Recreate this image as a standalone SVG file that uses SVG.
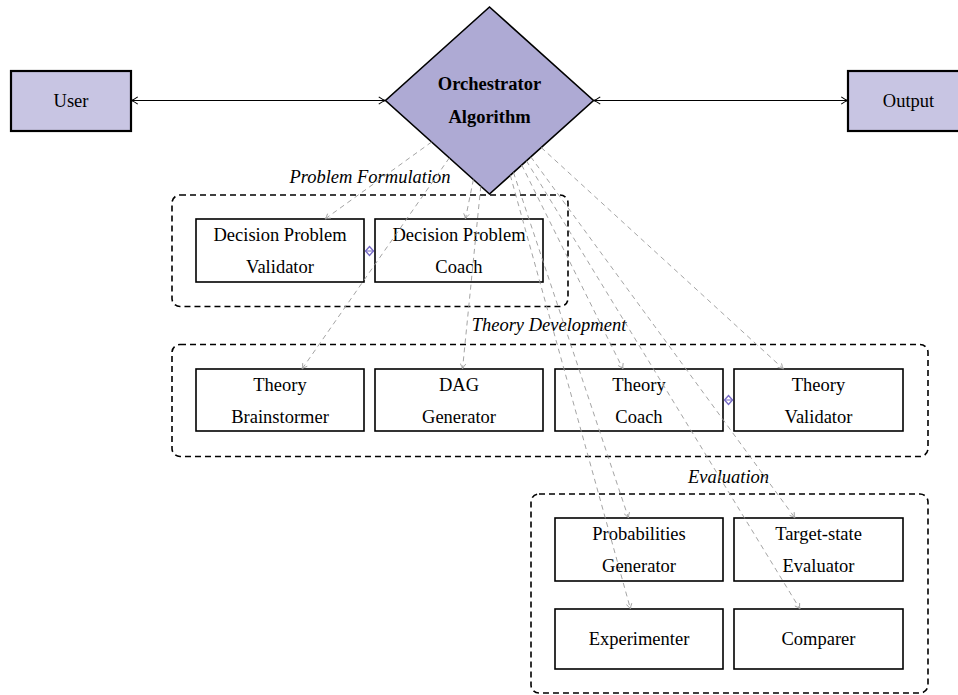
<svg xmlns="http://www.w3.org/2000/svg" width="958" height="695" viewBox="0 0 958 695">
<style>
text{font-family:"Liberation Serif","Times New Roman",serif;font-size:18.5px;fill:#000;text-anchor:middle}
.bold{font-weight:bold}
.it{font-style:italic}
.io{fill:#c8c5e3;stroke:#000;stroke-width:2.2}
.box{fill:#fff;stroke:#000;stroke-width:1.6}
.grp{fill:none;stroke:#000;stroke-width:1.6;stroke-dasharray:6 4}
.dash{fill:none;stroke:#9a9a9a;stroke-width:0.9;stroke-dasharray:5 4;marker-end:url(#ga)}
.solid{fill:none;stroke:#000;stroke-width:1.2;marker-start:url(#ba);marker-end:url(#ba)}
.link{fill:#fff;stroke:#7468c4;stroke-width:1.3}
.linkline{stroke:#7468c4;stroke-width:1}
</style>
<defs>
<marker id="ba" viewBox="0 0 10 10" refX="9.5" refY="5" markerWidth="9" markerHeight="9" markerUnits="userSpaceOnUse" orient="auto-start-reverse">
<path d="M2,1 Q6,4 9.5,5 Q6,6 2,9" fill="none" stroke="#000" stroke-width="1.2"/>
</marker>
<marker id="ga" viewBox="0 0 10 10" refX="9.5" refY="5" markerWidth="7" markerHeight="7" markerUnits="userSpaceOnUse" orient="auto">
<path d="M2,1 Q6,4 9.5,5 Q6,6 2,9" fill="none" stroke="#9a9a9a" stroke-width="1.2"/>
</marker>
</defs>

<g id="group-problem-formulation">
<rect class="grp" x="172" y="195" width="396" height="111.5" rx="8"/>
<text class="it" x="370" y="183">Problem Formulation</text>
</g>
<g id="group-theory-development">
<rect class="grp" x="172" y="344.5" width="756" height="112" rx="8"/>
<text class="it" x="549" y="331">Theory Development</text>
</g>
<g id="group-evaluation">
<rect class="grp" x="531" y="494" width="397" height="199" rx="8"/>
<text class="it" x="728.5" y="483">Evaluation</text>
</g>

<g id="user">
<rect class="io" x="11" y="71" width="120" height="60"/>
<text x="71" y="107">User</text>
</g>
<g id="output">
<rect class="io" x="848" y="71" width="121" height="60"/>
<text x="908.5" y="107">Output</text>
</g>
<g id="orchestrator">
<polygon points="489.5,7 593.5,100.5 489.5,194 385.5,100.5" fill="#aeaad4" stroke="#000" stroke-width="1.6"/>
<text class="bold" x="489.5" y="90">Orchestrator</text>
<text class="bold" x="489.5" y="122.5">Algorithm</text>
</g>

<g id="dp-validator">
<rect class="box" x="196" y="219" width="168" height="63"/>
<text x="280" y="241">Decision Problem</text>
<text x="280" y="273">Validator</text>
</g>
<g id="dp-coach">
<rect class="box" x="375" y="219" width="168" height="63"/>
<text x="459" y="241">Decision Problem</text>
<text x="459" y="273">Coach</text>
</g>
<g id="theory-brainstormer">
<rect class="box" x="196" y="369" width="168" height="62"/>
<text x="280" y="391">Theory</text>
<text x="280" y="423">Brainstormer</text>
</g>
<g id="dag-generator">
<rect class="box" x="375" y="369" width="168" height="62"/>
<text x="459" y="391">DAG</text>
<text x="459" y="423">Generator</text>
</g>
<g id="theory-coach">
<rect class="box" x="555" y="369" width="168" height="62"/>
<text x="639" y="391">Theory</text>
<text x="639" y="423">Coach</text>
</g>
<g id="theory-validator">
<rect class="box" x="734" y="369" width="169" height="62"/>
<text x="818.5" y="391">Theory</text>
<text x="818.5" y="423">Validator</text>
</g>
<g id="probabilities-generator">
<rect class="box" x="555" y="518" width="168" height="63"/>
<text x="639" y="540">Probabilities</text>
<text x="639" y="572">Generator</text>
</g>
<g id="target-state-evaluator">
<rect class="box" x="734" y="518" width="169" height="63"/>
<text x="818.5" y="540">Target-state</text>
<text x="818.5" y="572">Evaluator</text>
</g>
<g id="experimenter">
<rect class="box" x="555" y="609" width="168" height="60"/>
<text x="639" y="645">Experimenter</text>
</g>
<g id="comparer">
<rect class="box" x="734" y="609" width="169" height="60"/>
<text x="818.5" y="645">Comparer</text>
</g>

<g id="connectors">
<line class="solid" x1="131" y1="100.5" x2="385.5" y2="100.5"/>
<line class="solid" x1="593.5" y1="100.5" x2="848" y2="100.5"/>
<polygon class="link" points="369.5,246.5 373.5,251 369.5,255.5 365.5,251"/>
<line class="linkline" x1="365.5" y1="251" x2="373.5" y2="251"/>
<polygon class="link" points="728.5,395.5 732.5,400 728.5,404.5 724.5,400"/>
<line class="linkline" x1="724.5" y1="400" x2="732.5" y2="400"/>
<line class="dash" x1="431.6" y1="142" x2="325" y2="219"/>
<line class="dash" x1="473.4" y1="179.6" x2="465.4" y2="219"/>
<line class="dash" x1="449.3" y1="157.9" x2="302" y2="369"/>
<line class="dash" x1="480.8" y1="186.2" x2="462.5" y2="369"/>
<line class="dash" x1="521.7" y1="165" x2="623" y2="369"/>
<line class="dash" x1="541.2" y1="147.5" x2="783.5" y2="369"/>
<line class="dash" x1="513.5" y1="172.5" x2="628.5" y2="518"/>
<line class="dash" x1="530.8" y1="156.9" x2="795" y2="518"/>
<line class="dash" x1="510.3" y1="175.3" x2="630.5" y2="609"/>
<line class="dash" x1="526.4" y1="160.8" x2="800" y2="609"/>
</g>
</svg>
